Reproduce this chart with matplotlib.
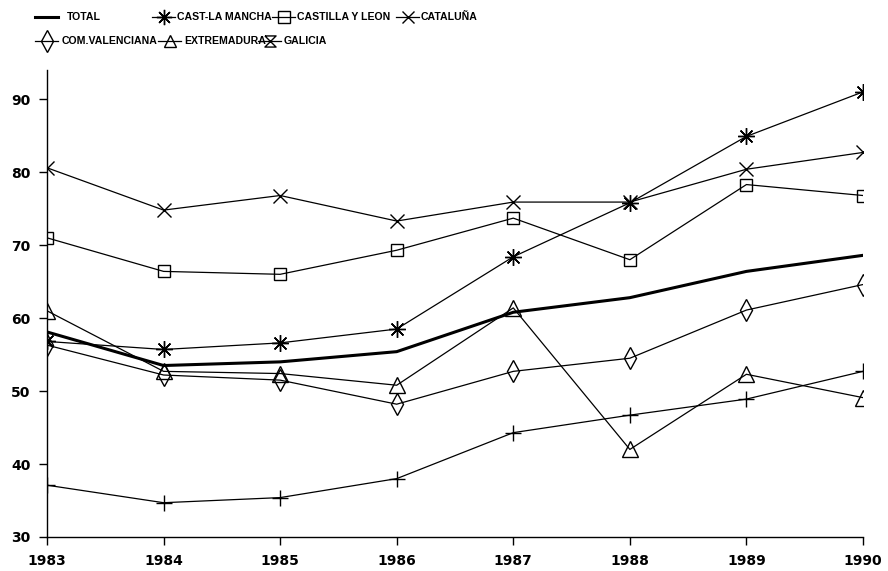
import matplotlib
matplotlib.use("Agg")
import matplotlib.pyplot as plt
from matplotlib.lines import Line2D
from matplotlib.path import Path

years = [1983, 1984, 1985, 1986, 1987, 1988, 1989, 1990]
total = [58.1, 53.5, 54.0, 55.4, 60.8, 62.8, 66.4, 68.6]
cast_la_mancha = [56.8, 55.7, 56.6, 58.5, 68.4, 75.8, 84.9, 91.0]
castilla_y_leon = [71.0, 66.4, 66.0, 69.3, 73.7, 68.0, 78.3, 76.8]
cataluna = [80.6, 74.8, 76.8, 73.3, 75.9, 75.9, 80.4, 82.7]
com_valenciana = [56.3, 52.2, 51.5, 48.2, 52.7, 54.5, 61.1, 64.6]
extremadura = [61.0, 52.7, 52.4, 50.8, 61.4, 42.0, 52.3, 49.1]
galicia = [37.1, 34.7, 35.4, 38.0, 44.3, 46.7, 48.9, 52.7]

labels = ["TOTAL", "CAST-LA MANCHA", "CASTILLA Y LEON", "CATALUÑA",
          "COM.VALENCIANA", "EXTREMADURA", "GALICIA"]
yticks = [30, 40, 50, 60, 70, 80, 90]

hourglass = Path([(-1, 1), (1, 1), (-1, -1), (1, -1), (-1, 1)],
                 [Path.MOVETO, Path.LINETO, Path.LINETO, Path.LINETO, Path.LINETO])

fig = plt.figure(figsize=(8.88, 5.71), dpi=100)
ax = fig.add_axes([47/888, 34/571, (863-47)/888, 467/571])

lw = 0.9
ax.plot(years, total, color="black", lw=2.2)
ax.plot(years, cast_la_mancha, color="black", lw=lw, marker=(8, 2, 0), ms=12, mew=1.0)
ax.plot(years, castilla_y_leon, color="black", lw=lw, marker="s", ms=9, mfc="none", mew=1.0)
ax.plot(years, cataluna, color="black", lw=lw, marker="x", ms=10, mew=1.0)
ax.plot(years, com_valenciana, color="black", lw=lw, marker="d", ms=11, mfc="none", mew=1.0)
ax.plot(years, extremadura, color="black", lw=lw, marker="^", ms=11, mfc="none", mew=1.0)
ax.plot(years, galicia, color="black", lw=lw, marker="+", ms=11, mew=1.0)

ax.set_xlim(1983, 1990)
ax.set_ylim(30, 94)
ax.set_xticks(years)
ax.set_yticks(yticks)
ax.set_xticklabels([str(y) for y in years])
for s in ["top", "right"]:
    ax.spines[s].set_visible(False)
for s in ["left", "bottom"]:
    ax.spines[s].set_linewidth(1.0)
ax.spines["bottom"].set_bounds(1983, 1990)
ax.tick_params(direction="out", length=6, width=1.0, labelsize=10, pad=6)
for t in ax.get_xticklabels() + ax.get_yticklabels():
    t.set_fontweight("bold")
    t.set_family("DejaVu Sans")
ax.patch.set_visible(False)

# legend (manual layout, two rows)
handles = [
    dict(marker=None, lw=2.2),
    dict(marker=(8, 2, 0), lw=lw, ms=11),
    dict(marker="s", lw=lw, ms=8),
    dict(marker="x", lw=lw, ms=9),
    dict(marker="d", lw=lw, ms=11),
    dict(marker="^", lw=lw, ms=9),
    dict(marker=hourglass, lw=lw, ms=8),
]
pos_px = [(35, 17), (152, 17), (272, 17), (396, 17),
          (35, 41), (158, 41), (258, 41)]
text_px = [67, 177, 297, 421, 62, 184, 284]
W, H = 888, 571
for lab, h, (x0, y0), tx in zip(labels, handles, pos_px, text_px):
    x1 = x0 + 23
    yf = 1 - y0 / H
    fig.add_artist(Line2D([x0 / W, x1 / W], [yf, yf], transform=fig.transFigure,
                          color="black", lw=h["lw"]))
    if h["marker"] is not None:
        fig.add_artist(Line2D([(x0 + x1) / 2 / W], [yf], transform=fig.transFigure,
                              color="black", marker=h["marker"], ms=h["ms"],
                              mfc="none", mew=1.0, lw=0))
    fig.text(tx / W, yf, lab, ha="left", va="center", fontsize=7.6,
             fontweight="bold", family="Liberation Sans")

fig.savefig("out.png", dpi=100)
